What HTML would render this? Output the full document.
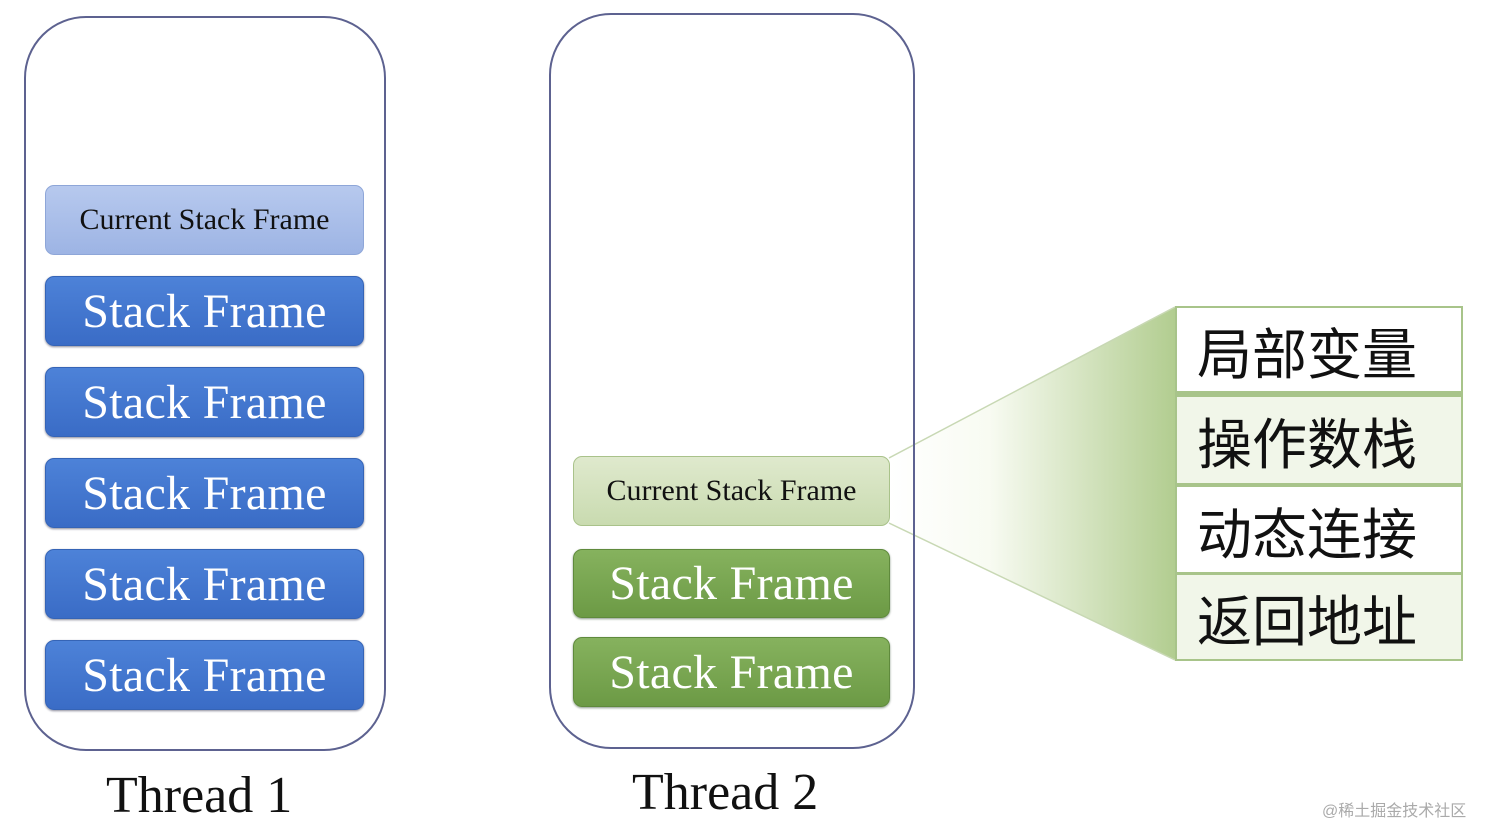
<!DOCTYPE html>
<html><head><meta charset="utf-8"><style>
body{margin:0;width:1488px;height:824px;background:#fff;position:relative;overflow:hidden;font-family:"Liberation Serif","Noto Serif CJK SC",serif}
.c{position:absolute;border:2px solid #5d6290;border-radius:62px;box-sizing:border-box}
.f{position:absolute;box-sizing:border-box;border-radius:9px;display:flex;align-items:center;justify-content:center;white-space:nowrap}
.b{background:linear-gradient(#4d82d8,#3a6cc6);border:1px solid #3564b6;color:#fff;font-size:48px;letter-spacing:0.3px;box-shadow:0 1px 2px #889}
.bc{background:linear-gradient(#b7c9ee,#9db4e4);border:1px solid #8ea6d8;color:#111;font-size:30px}
.g{background:linear-gradient(#86b25e,#6c9a45);border:1px solid #5f8a3c;color:#fff;font-size:48px;letter-spacing:0.3px;box-shadow:0 1px 2px #898}
.gc{background:linear-gradient(#dfe9cd,#c9dbb0);border:1px solid #a9c28a;color:#111;font-size:30px}
.t{position:absolute;left:1175px;width:288px;box-sizing:border-box;border:2px solid #a8c48a;font-family:"Liberation Sans","Noto Sans CJK SC",sans-serif;font-size:55px;color:#111;padding-left:20px;display:flex;align-items:center}
.l{position:absolute;font-size:52px;color:#111}
</style></head><body>
<svg style="position:absolute;left:0;top:0" width="1488" height="824">
<defs><linearGradient id="gr" x1="0" x2="1" y1="0" y2="0"><stop offset="0" stop-color="#fff"/><stop offset="0.35" stop-color="#f8fbf2"/><stop offset="1" stop-color="#b2cd90"/></linearGradient></defs>
<polygon points="889,458 1175,307 1175,660 889,523" fill="url(#gr)"/>
<line x1="889" y1="458" x2="1175" y2="307" stroke="#c8d8b4" stroke-width="1.5"/>
<line x1="889" y1="523" x2="1175" y2="660" stroke="#c8d8b4" stroke-width="1.5"/>
</svg>
<div class="c" style="left:24px;top:16px;width:362px;height:735px"></div>
<div class="c" style="left:549px;top:13px;width:366px;height:736px"></div>
<div class="f bc" style="left:45px;top:185px;width:319px;height:70px">Current Stack Frame</div>
<div class="f b" style="left:45px;top:276px;width:319px;height:70px">Stack Frame</div>
<div class="f b" style="left:45px;top:367px;width:319px;height:70px">Stack Frame</div>
<div class="f b" style="left:45px;top:458px;width:319px;height:70px">Stack Frame</div>
<div class="f b" style="left:45px;top:549px;width:319px;height:70px">Stack Frame</div>
<div class="f b" style="left:45px;top:640px;width:319px;height:70px">Stack Frame</div>
<div class="f gc" style="left:573px;top:456px;width:317px;height:70px">Current Stack Frame</div>
<div class="f g" style="left:573px;top:549px;width:317px;height:69px">Stack Frame</div>
<div class="f g" style="left:573px;top:637px;width:317px;height:70px">Stack Frame</div>
<div class="t" style="top:306px;height:89px;background:#fff;border-bottom:4px solid #a8c48a">局部变量</div>
<div class="t" style="top:395px;height:90px;background:#f1f6e9">操作数栈</div>
<div class="t" style="top:485px;height:89px;background:#fff">动态连接</div>
<div class="t" style="top:573px;height:88px;background:#f1f6e9">返回地址</div>
<div class="l" style="left:106px;top:766px">Thread 1</div>
<div class="l" style="left:632px;top:763px">Thread 2</div>
<div style="position:absolute;left:1322px;top:797px;font-size:16px;color:#aaa;font-family:'Liberation Sans','Noto Sans CJK SC',sans-serif">@稀土掘金技术社区</div>
</body></html>
